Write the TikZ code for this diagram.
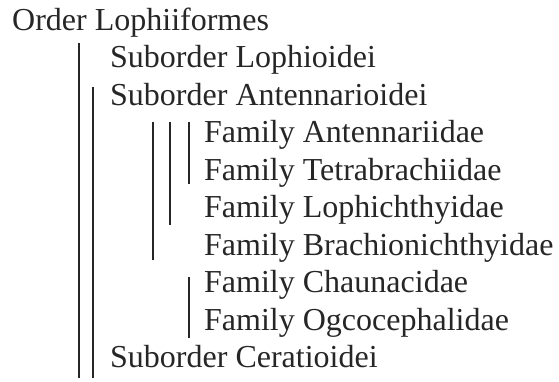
\documentclass[tikz,border=0pt]{standalone}
\usepackage{fontspec}
\setmainfont{Liberation Serif}
\definecolor{ink}{HTML}{262626}
\begin{document}
\begin{tikzpicture}[x=1pt,y=-1pt,
  lbl/.style={anchor=base west,inner sep=0pt,text=ink,font=\fontsize{32}{38}\selectfont},
  bar/.style={draw=ink,line width=2pt}]
\useasboundingbox (0,0) rectangle (559,381);
\node[lbl] (o) at (12,30) {Order Lophiiformes};
\node[lbl] (s1) at (110,67.6) {Suborder Lophioidei};
\node[lbl] (s2) at (110,105.1) {Suborder Antennarioidei};
\node[lbl] (f1) at (204,142.7) {Family Antennariidae};
\node[lbl] (f2) at (204,180.2) {Family Tetrabrachiidae};
\node[lbl] (f3) at (204,217.6) {Family Lophichthyidae};
\node[lbl] (f4) at (204,255.1) {Family Brachionichthyidae};
\node[lbl] (f5) at (204,292.6) {Family Chaunacidae};
\node[lbl] (f6) at (204,330) {Family Ogcocephalidae};
\node[lbl] (s3) at (110,367) {Suborder Ceratioidei};
\draw[bar] (79,43) -- (79,378);
\draw[bar] (93,87) -- (93,378);
\draw[bar] (153,122) -- (153,260);
\draw[bar] (170,122) -- (170,225);
\draw[bar] (189,122) -- (189,184);
\draw[bar] (189,277) -- (189,338);
\end{tikzpicture}
\end{document}
